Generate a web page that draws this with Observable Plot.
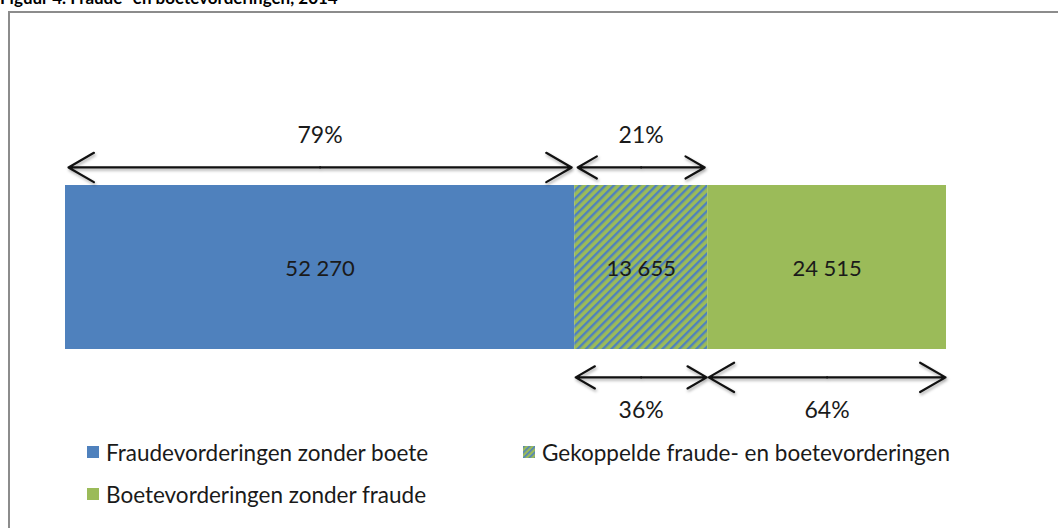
<!DOCTYPE html>
<html>
<head>
<meta charset="utf-8">
<script src="https://cdn.jsdelivr.net/npm/d3@7"></script>
<script src="https://cdn.jsdelivr.net/npm/@observablehq/plot@0.6"></script>
<style>
  html, body { margin: 0; padding: 0; width: 1058px; height: 528px; overflow: hidden; background: #fff; font-family: Lato, "Open Sans", sans-serif; }
  #title { position: absolute; left: 0; top: -11px; font-weight: bold; font-size: 17px; line-height: 17px; color: #000; white-space: nowrap; }
  #frame { position: absolute; left: 8px; top: 11px; width: 1200px; height: 700px; border: 2px solid #8c8c8c; box-sizing: border-box; }
  #chart { position: absolute; left: 0; top: 0; }
  .legend { position: absolute; font-size: 22.5px; color: #1a1a1a; white-space: nowrap; display: flex; align-items: center; }
  .legend svg { margin-right: 7px; }
  .arr { filter: drop-shadow(1px 2px 1.5px rgba(0,0,0,0.35)); }
</style>
</head>
<body>
<div id="title">Figuur 4. Fraude- en boetevorderingen, 2014</div>
<div id="frame"></div>
<div id="chart"></div>
<div id="legend"></div>
<script>
// ---- data ----
const categories = ["Fraudevorderingen zonder boete", "Gekoppelde fraude- en boetevorderingen", "Boetevorderingen zonder fraude"];
const values = [52270, 13655, 24515];
const fills = ["#4F81BD", "url(#hatch)", "#9BBB59"];
// segments spanned by the arrows (indices into categories)
const topGroup = [0, 1];      // fraud claims
const bottomGroup = [1, 2];   // fine claims

// ---- derived table ----
const ends = d3.cumsum(values);
const bars = categories.map((c, i) => ({
  cat: c, value: values[i], x1: ends[i] - values[i], x2: ends[i], fill: fills[i]
}));
const fmt = v => d3.format(",")(v).replace(/,/g, " ");
function spans(group) {
  const tot = d3.sum(group, i => values[i]);
  return group.map(i => ({x1: bars[i].x1, x2: bars[i].x2, mid: (bars[i].x1 + bars[i].x2) / 2,
    label: Math.round(values[i] / tot * 100) + "%"}));
}
const topSpans = spans(topGroup);
const botSpans = spans(bottomGroup);
const halves = s => s.flatMap(d => [{x1: d.mid, x2: d.x1}, {x1: d.mid, x2: d.x2}]);

const yTopArrow = 1.11, yTopLabel = 1.305, yBotArrow = -0.17, yBotLabel = -0.375;
const arrowOpts = {stroke: "#111", strokeWidth: 2.2, headLength: 20, headAngle: 60, className: "arr"};

const plot = Plot.plot({
  width: 1058, height: 528,
  marginLeft: 65, marginRight: 112, marginTop: 0, marginBottom: 0,
  x: {domain: [0, d3.sum(values)], axis: null},
  y: {domain: [0, 1], range: [349, 185], axis: null},
  style: {fontFamily: "Lato, 'Open Sans', sans-serif", background: "transparent"},
  marks: [
    Plot.rectX(bars, {x1: "x1", x2: "x2", y1: 0, y2: 1, fill: "fill"}),
    Plot.text(bars, {x: d => (d.x1 + d.x2) / 2, y: 0.491, text: d => fmt(d.value), fontSize: 22, fill: "#1a1a1a"}),
    Plot.arrow(halves(topSpans), {x1: "x1", x2: "x2", y1: yTopArrow, y2: yTopArrow, insetEnd: 3, ...arrowOpts}),
    Plot.arrow(halves(botSpans), {x1: "x1", x2: "x2", y1: yBotArrow, y2: yBotArrow, insetEnd: 1, ...arrowOpts}),
    Plot.text(topSpans, {x: "mid", y: yTopLabel, text: "label", fontSize: 23, fill: "#1a1a1a"}),
    Plot.text(botSpans, {x: "mid", y: yBotLabel, text: "label", fontSize: 23, fill: "#1a1a1a"})
  ]
});

const patternDef = `<pattern id="hatch" patternUnits="userSpaceOnUse" width="6" height="6" patternTransform="rotate(45)">
  <rect width="6" height="6" fill="#9BBB59"/><rect x="0" y="0" width="2.4" height="6" fill="#4F81BD"/></pattern>`;
d3.select(plot).insert("defs", ":first-child").html(patternDef);
document.getElementById("chart").appendChild(plot);

// ---- legend ----
const legendPos = [{left: 87, top: 440}, {left: 523, top: 440}, {left: 87, top: 482}];
const legend = document.getElementById("legend");
categories.forEach((c, i) => {
  const div = document.createElement("div");
  div.className = "legend";
  div.style.left = legendPos[i].left + "px";
  div.style.top = legendPos[i].top + "px";
  div.style.height = "24px";
  div.innerHTML = `<svg width="12" height="12"><defs><pattern id="hatchL${i}" patternUnits="userSpaceOnUse" width="4" height="4" patternTransform="rotate(45)"><rect width="4" height="4" fill="#9BBB59"/><rect width="1.6" height="4" fill="#4F81BD"/></pattern></defs><rect width="12" height="12" fill="${fills[i].startsWith('url') ? `url(#hatchL${i})` : fills[i]}"/></svg><span>${c}</span>`;
  legend.appendChild(div);
});
</script>
</body>
</html>
